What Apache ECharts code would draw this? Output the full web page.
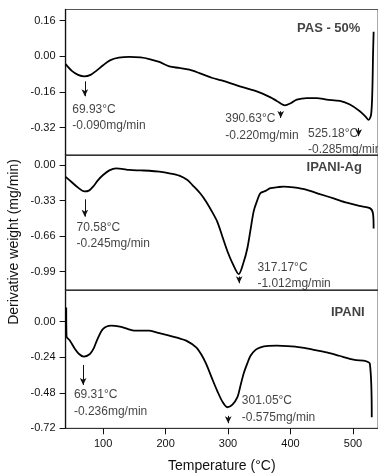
<!DOCTYPE html>
<html><head><meta charset="utf-8">
<script src="https://cdn.jsdelivr.net/npm/echarts@6/dist/echarts.min.js"></script>
<style>html,body{margin:0;padding:0;background:#fff}#c{width:378px;height:476px}</style>
</head><body><div id="c"></div><script>
// ---- data: PAS - 50% (top panel)
const pasT = [40,50,60,70,80,90,100,111,125,142,160,174,190,206,222,238,254,275,290,314,346,368,378,391,401,410,426,442,458,479,495,511,520,525,529,531,532,533];
const pasV = [-0.035,-0.065,-0.083,-0.090,-0.083,-0.063,-0.040,-0.018,-0.006,-0.002,-0.005,-0.012,-0.025,-0.045,-0.052,-0.060,-0.075,-0.097,-0.108,-0.130,-0.157,-0.184,-0.200,-0.220,-0.209,-0.194,-0.187,-0.187,-0.194,-0.200,-0.216,-0.246,-0.270,-0.285,-0.260,-0.150,0.000,0.110];
// ---- data: IPANI-Ag (middle panel)
const agT = [40,50,60,70,78,84,92,100,110,121,130,142,160,174,190,206,222,235,243,255,265,275,283,291,299,307,317,325,331,336,341,346,352,360,368,380,389,405,426,447,469,490,510,527,532,533];
const agV = [-0.110,-0.160,-0.210,-0.245,-0.235,-0.200,-0.140,-0.093,-0.050,-0.031,-0.035,-0.046,-0.050,-0.053,-0.062,-0.077,-0.099,-0.140,-0.186,-0.260,-0.340,-0.440,-0.530,-0.665,-0.800,-0.910,-1.012,-0.900,-0.770,-0.600,-0.430,-0.340,-0.260,-0.240,-0.215,-0.205,-0.200,-0.208,-0.230,-0.270,-0.310,-0.350,-0.380,-0.400,-0.450,-0.590];
// ---- data: IPANI (bottom panel)
const ipT = [41,41.5,47,55,62,69,79,85,90,100,113,127,140,150,165,174,190,206,220,233,249,257,265,275,283,291,299,307,315,320,325,331,336,344,352,365,378,395,416,437,458,478,495,505,517,527,530];
const ipV = [0.096,-0.100,-0.128,-0.184,-0.220,-0.236,-0.218,-0.180,-0.128,-0.049,-0.027,-0.034,-0.050,-0.061,-0.060,-0.061,-0.077,-0.094,-0.110,-0.128,-0.173,-0.220,-0.285,-0.390,-0.470,-0.540,-0.578,-0.560,-0.510,-0.430,-0.350,-0.280,-0.230,-0.190,-0.173,-0.164,-0.162,-0.165,-0.173,-0.190,-0.207,-0.230,-0.251,-0.260,-0.263,-0.285,-0.645];

// tick labels
const xTicks = [100,200,300,400,500];
const yTicksTop = [0.16,0.00,-0.16,-0.32];
const yTicksMid = [0.00,-0.33,-0.66,-0.99];
const yTicksBot = [0.00,-0.24,-0.48,-0.72];

// annotations: [x, yStart, yEnd] arrows ; [x, y, text] notes ; panel titles
const pasArrows = [[70.8,-0.112,-0.179],[384.3,-0.246,-0.276],[509,-0.321,-0.358]];
const pasNotes = [[50.6,-0.276,'69.93°C\n-0.090mg/min'],[295.5,-0.318,'390.63°C\n-0.220mg/min'],[428,-0.383,'525.18°C\n-0.285mg/min']];
const agArrows = [[70.8,-0.318,-0.479],[317.8,-1.035,-1.097]];
const agNotes = [[57.6,-0.655,'70.58°C\n-0.245mg/min'],[347,-1.027,'317.17°C\n-1.012mg/min']];
const ipArrows = [[68.1,-0.292,-0.427],[300.3,-0.636,-0.686]];
const ipNotes = [[53.3,-0.549,'69.31°C\n-0.236mg/min'],[322.1,-0.591,'301.05°C\n-0.575mg/min']];
const panelTitles = [[511.8,0.127,'PAS - 50%'],[514.3,-0.021,'IPANI-Ag'],[518.6,0.061,'IPANI']];

const FONT = 'Liberation Sans, Arial, sans-serif';
const chart = echarts.init(document.getElementById('c'), null, {renderer:'canvas'});

const grids = [
  {left:65.6, width:313.5, top:9.5, height:145.5},
  {left:65.6, width:313.5, top:155, height:135},
  {left:65.6, width:313.5, top:290, height:138.3}
].map(g => Object.assign(g, {show:true, borderColor:'#555', borderWidth:1, backgroundColor:'transparent'}));

function xAxis(i, last){
  const ax = {
    type:'value', gridIndex:i, min:40, max:540,
    axisLine:{show:true, onZero:false, lineStyle:{color:'#333', width:1}},
    axisTick:{show:false},
    axisLabel:{show:false},
    splitLine:{show:false}
  };
  if (last) {
    ax.axisTick = {show:true, length:6, customValues:xTicks, lineStyle:{color:'#111', width:1}};
    ax.axisLabel = {show:true, customValues:xTicks, margin:10, fontSize:11, color:'#111', fontFamily:FONT};
    ax.name = 'Temperature (°C)';
    ax.nameLocation = 'middle';
    ax.nameGap = 31;
    ax.nameTextStyle = {fontSize:14, color:'#111', fontFamily:FONT};
  }
  return ax;
}
function yAxis(i, min, max, ticks){
  return {
    type:'value', gridIndex:i, min:min, max:max,
    axisLine:{show:true, onZero:false, lineStyle:{color:'#111', width:1.3}},
    axisTick:{show:true, length:6, customValues:ticks, lineStyle:{color:'#111', width:1}},
    axisLabel:{show:true, customValues:ticks, margin:10, fontSize:11, color:'#111', fontFamily:FONT,
      formatter:v => v.toFixed(2)},
    splitLine:{show:false}
  };
}

function curve(i, T, V){
  return {type:'line', xAxisIndex:i, yAxisIndex:i, data:T.map((t,k)=>[t,V[k]]),
    showSymbol:false, smooth:0.3, lineStyle:{color:'#000', width:1.8}, silent:true};
}
function notes(i, arr, arrows, title){
  const data = arr.map(n => ({value:[n[0],n[1]], label:{show:true, position:'right', distance:0, formatter:n[2]}}));
  data.push({value:[title[0],title[1]], label:{show:true, position:'left', distance:0, formatter:title[2], fontWeight:'bold', fontSize:13}});
  return {type:'scatter', xAxisIndex:i, yAxisIndex:i, symbolSize:0, silent:true,
    label:{fontSize:12, lineHeight:16.5, color:'#111', fontFamily:FONT},
    data:data,
    markLine:{silent:true, symbol:['none','arrow'], symbolSize:[5,7], label:{show:false},
      lineStyle:{color:'#111', width:1, type:'solid'},
      data: arrows.map(a => [{coord:[a[0],a[1]]},{coord:[a[0],a[2]]}])}
  };
}

chart.setOption({
  animation:false,
  grid:grids,
  xAxis:[xAxis(0,false), xAxis(1,false), xAxis(2,true)],
  yAxis:[yAxis(0,-0.4425,0.2102,yTicksTop), yAxis(1,-1.16,0.093,yTicksMid), yAxis(2,-0.72,0.214,yTicksBot)],
  graphic:[{type:'text', x:14, y:242, rotation:Math.PI/2,
    style:{text:'Derivative weight (mg/min)', font:'14px Liberation Sans, Arial, sans-serif', fill:'#111', textAlign:'center', textVerticalAlign:'middle'}}],
  series:[
    curve(0, pasT, pasV), curve(1, agT, agV), curve(2, ipT, ipV),
    notes(0, pasNotes, pasArrows, panelTitles[0]),
    notes(1, agNotes, agArrows, panelTitles[1]),
    notes(2, ipNotes, ipArrows, panelTitles[2])
  ]
});
</script></body></html>
